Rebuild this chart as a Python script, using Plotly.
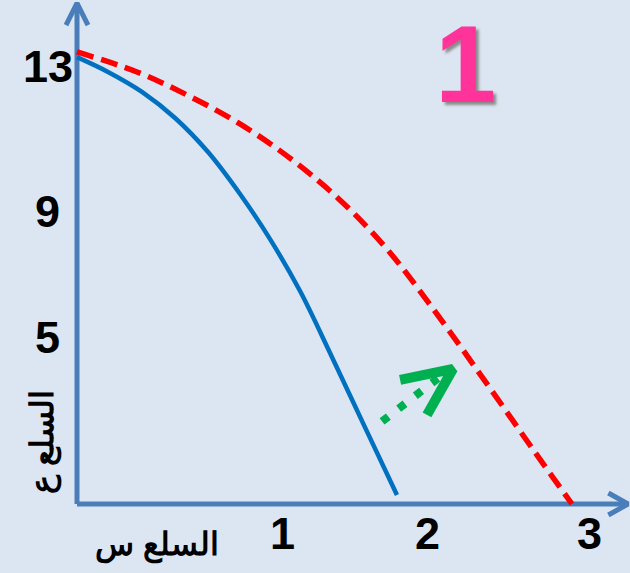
import plotly.graph_objects as go

# curve before (blue) and after (red dashed) the shift, in units of goods
blue_x = [0.0, 0.189, 0.396, 0.598, 0.799, 0.994, 1.177, 1.360, 1.543, 1.744, 1.951]
blue_y = [12.99, 12.56, 11.98, 11.22, 10.23, 9.01, 7.70, 6.19, 4.39, 2.35, 0.26]

red_x = [0.0, 0.366, 0.671, 0.976, 1.280, 1.585, 1.890, 2.195, 2.500, 2.805, 3.018]
red_y = [13.14, 12.56, 11.89, 11.10, 10.12, 8.92, 7.41, 5.52, 3.49, 1.42, 0.0]

# green shift arrow (dotted shaft + open head)
shift_x = [1.860, 2.200]
shift_y = [2.40, 3.65]
head_x = [1.970, 2.293, 2.134]
head_y = [3.61, 3.93, 2.59]

# tick labels
y_labels = ["13", "9", "5"]
y_label_pos = [12.73, 8.49, 4.85]
x_labels = ["1", "2", "3"]
x_label_pos = [1.256, 2.140, 3.122]

x_title = "السلع س"
y_title = "السلع ع"
panel_label = "1"

# axis extent
x_max = 3.36
y_max = 14.56

bg = "#dce6f2"
axis_color = "#4a7ebb"

fig = go.Figure()

# axes drawn as lines with open arrow heads
fig.add_trace(go.Scatter(x=[0, 0], y=[0, y_max], mode="lines",
                         line=dict(color=axis_color, width=5), hoverinfo="skip"))
fig.add_trace(go.Scatter(x=[-0.067, 0, 0.067], y=[y_max - 0.64, y_max, y_max - 0.64],
                         mode="lines", line=dict(color=axis_color, width=5), hoverinfo="skip"))
fig.add_trace(go.Scatter(x=[0, x_max], y=[0, 0], mode="lines",
                         line=dict(color=axis_color, width=5), hoverinfo="skip"))
fig.add_trace(go.Scatter(x=[x_max - 0.12, x_max, x_max - 0.12], y=[0.32, 0, -0.32],
                         mode="lines", line=dict(color=axis_color, width=5), hoverinfo="skip"))

# the two curves
fig.add_trace(go.Scatter(x=blue_x, y=blue_y, mode="lines", line_shape="spline",
                         line=dict(color="#0070c0", width=4.5, smoothing=1)))
fig.add_trace(go.Scatter(x=red_x, y=red_y, mode="lines", line_shape="spline",
                         line=dict(color="#ff0000", width=5.5, dash="17px,8px", smoothing=1)))

# shift arrow
fig.add_trace(go.Scatter(x=shift_x, y=shift_y, mode="lines",
                         line=dict(color="#00b050", width=8, dash="8px,13px")))
fig.add_trace(go.Scatter(x=head_x, y=head_y, mode="lines",
                         line=dict(color="#00b050", width=10)))

label_font = dict(family="Liberation Sans, Arial", size=45, color="black", weight="bold")

annotations = []
for t, p in zip(y_labels, y_label_pos):
    annotations.append(dict(x=-0.177, y=p, text=t, showarrow=False,
                            xanchor="center", yanchor="middle", font=label_font))
for t, p in zip(x_labels, x_label_pos):
    annotations.append(dict(x=p, y=-0.87, text=t, showarrow=False,
                            xanchor="center", yanchor="middle", font=label_font))

arabic_font = dict(family="Liberation Sans, Arial", size=32, color="black", weight="bold")
annotations.append(dict(x=0.488, y=-1.19, text=x_title, showarrow=False,
                        xanchor="center", yanchor="middle", font=arabic_font))
annotations.append(dict(x=-0.207, y=1.80, text=y_title, showarrow=False, textangle=-90,
                        xanchor="center", yanchor="middle", font=arabic_font))

annotations.append(dict(x=2.366, y=1.0, yref="paper", text=panel_label, showarrow=False,
                        xanchor="center", yanchor="top",
                        font=dict(family="Liberation Sans, Arial", size=110, color="#ff3399",
                                  weight="bold", shadow="3px 3px 3px #8a8a8a")))

fig.update_layout(
    width=630,
    height=573,
    margin=dict(l=0, r=0, t=0, b=0),
    paper_bgcolor=bg,
    plot_bgcolor=bg,
    showlegend=False,
    annotations=annotations,
    xaxis=dict(range=[-77 / 164, 553 / 164], visible=False, fixedrange=True),
    yaxis=dict(range=[-69 / 34.4, 504 / 34.4], visible=False, fixedrange=True),
)

fig.write_html("out.html", config={"displayModeBar": False},
               post_script="document.body.style.margin='0';")
